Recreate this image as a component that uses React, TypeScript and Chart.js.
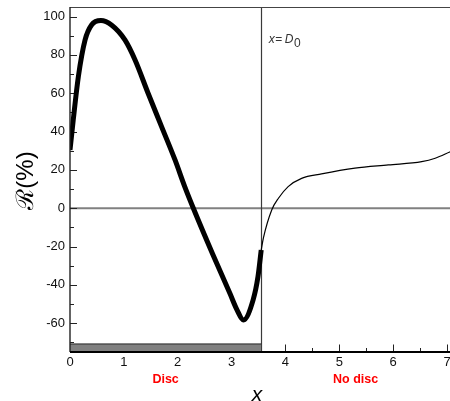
import React, { useEffect, useRef } from "react";
import { Chart, registerables } from "chart.js";

Chart.register(...registerables);

// ---- data ----
const discEnd = 3.55; // x = D0
const discTop = -70.8;

const discX = [0, 0.06, 0.155, 0.28, 0.4, 0.575, 0.77, 1.02, 1.21, 1.45, 1.7, 1.95, 2.13, 2.29, 2.65, 2.97, 3.1, 3.22, 3.4, 3.49, 3.55];
const discY = [30.4, 46, 68.6, 87.8, 95.6, 97.9, 95.6, 87.8, 77.2, 60, 42.6, 25.2, 11.3, 0, -24, -44.5, -53, -58.3, -47.8, -35.7, -21.8];

const noDiscX = [3.55, 3.59, 3.745, 3.87, 4.05, 4.3, 4.67, 5.29, 5.91, 6.53, 6.78, 7.06];
const noDiscY = [-21.8, -15.6, -0.9, 5.2, 11.3, 15.6, 17.9, 20.9, 22.6, 24.3, 26.1, 29.5];

const xTicks = [0, 1, 2, 3, 4, 5, 6, 7];
const xMinorTicks = [0.5, 1.5, 2.5, 3.5, 4.5, 5.5, 6.5];
const yTicks = [-60, -40, -20, 0, 20, 40, 60, 80, 100];
const yMinorTicks = [-70, -50, -30, -10, 10, 30, 50, 70, 90];

const xMin = 0;
const xMax = 7.055;
const yMin = -75;
const yMax = 105;

const regionLabels = ["Disc", "No disc"];
const FONT = "'Liberation Sans', Arial, Helvetica, sans-serif";

const decor = {
  id: "decor",
  beforeDatasetsDraw(chart: any) {
    const { ctx, chartArea, scales } = chart;
    const { left, right, top, bottom } = chartArea;
    const x = scales.x;
    const y = scales.y;
    ctx.save();
    // zero line
    const y0 = y.getPixelForValue(0);
    ctx.strokeStyle = "#808080";
    ctx.lineWidth = 2;
    ctx.beginPath();
    ctx.moveTo(left, y0);
    ctx.lineTo(right, y0);
    ctx.stroke();
    // D0 vertical line
    const xd = Math.round(x.getPixelForValue(discEnd)) + 0.5;
    ctx.strokeStyle = "#3a3a3a";
    ctx.lineWidth = 1.2;
    ctx.beginPath();
    ctx.moveTo(xd, top);
    ctx.lineTo(xd, bottom);
    ctx.stroke();
    // ticks (inward)
    ctx.strokeStyle = "#222";
    ctx.lineWidth = 1;
    ctx.beginPath();
    yTicks.forEach((v) => {
      const p = Math.round(y.getPixelForValue(v)) + 0.5;
      ctx.moveTo(left, p);
      ctx.lineTo(left + 7, p);
    });
    yMinorTicks.forEach((v) => {
      const p = Math.round(y.getPixelForValue(v)) + 0.5;
      ctx.moveTo(left, p);
      ctx.lineTo(left + 4, p);
    });
    xTicks.forEach((v) => {
      const p = Math.round(x.getPixelForValue(v)) + 0.5;
      ctx.moveTo(p, bottom);
      ctx.lineTo(p, bottom - 7.5);
    });
    xMinorTicks.forEach((v) => {
      const p = Math.round(x.getPixelForValue(v)) + 0.5;
      ctx.moveTo(p, bottom);
      ctx.lineTo(p, bottom - 4);
    });
    ctx.stroke();
    ctx.restore();
  },
  afterDatasetsDraw(chart: any) {
    const { ctx, chartArea } = chart;
    const { left, right, top, bottom } = chartArea;
    ctx.save();
    // top border
    ctx.strokeStyle = "#444";
    ctx.lineWidth = 1;
    ctx.beginPath();
    ctx.moveTo(left, top + 0.5);
    ctx.lineTo(right, top + 0.5);
    ctx.stroke();
    // left axis
    ctx.strokeStyle = "#222";
    ctx.lineWidth = 1.4;
    ctx.beginPath();
    ctx.moveTo(left, top);
    ctx.lineTo(left, bottom);
    ctx.stroke();
    // bottom axis
    ctx.strokeStyle = "#000";
    ctx.lineWidth = 2.2;
    ctx.beginPath();
    ctx.moveTo(left, bottom);
    ctx.lineTo(right, bottom);
    ctx.stroke();
    ctx.restore();
  },
  afterDraw(chart: any) {
    const { ctx, chartArea, scales } = chart;
    const { left, right, top, bottom } = chartArea;
    const x = scales.x;
    ctx.save();
    // region labels
    ctx.fillStyle = "#ff0000";
    ctx.font = `bold 12.5px ${FONT}`;
    ctx.textAlign = "center";
    ctx.textBaseline = "alphabetic";
    const xd = x.getPixelForValue(discEnd);
    ctx.fillText(regionLabels[0], (x.getPixelForValue(xMin) + xd) / 2, 383);
    ctx.fillText(regionLabels[1], (xd + x.getPixelForValue(xMax)) / 2, 383);

    // x = D0 annotation
    ctx.fillStyle = "#333";
    ctx.textAlign = "left";
    let cx = xd + 7.5;
    const base = 43;
    ctx.font = `italic 12px ${FONT}`;
    ctx.fillText("x", cx, base);
    cx += ctx.measureText("x").width + 0.5;
    ctx.font = `12px ${FONT}`;
    ctx.fillText("=", cx, base);
    cx += ctx.measureText("=").width + 2.5;
    ctx.font = `italic 12px ${FONT}`;
    ctx.fillText("D", cx, base);
    cx += ctx.measureText("D").width + 0.5;
    ctx.font = `12px ${FONT}`;
    ctx.fillText("0", cx, base + 4);

    // x axis title
    ctx.fillStyle = "#000";
    ctx.textAlign = "center";
    ctx.font = `italic 21px ${FONT}`;
    ctx.fillText("x", (left + right) / 2 - 3, 400.5);

    // y axis title
    ctx.translate(33, (top + bottom) / 2 + 1);
    ctx.rotate(-Math.PI / 2);
    ctx.font = `24px ${FONT}`;
    ctx.textAlign = "center";
    ctx.textBaseline = "alphabetic";
    ctx.fillText("\u211B(%)", 0, 0);
    ctx.restore();
  },
};

export default function App() {
  const ref = useRef<HTMLCanvasElement | null>(null);
  useEffect(() => {
    if (!ref.current) return;
    const discPts = discX.map((v, i) => ({ x: v, y: discY[i] }));
    const noDiscPts = noDiscX.map((v, i) => ({ x: v, y: noDiscY[i] }));
    const barPts = [
      { x: xMin, y: discTop },
      { x: discEnd, y: discTop },
    ];
    const chart = new Chart(ref.current, {
      type: "line",
      data: {
        datasets: [
          {
            data: discPts,
            borderColor: "#000",
            borderWidth: 5,
            pointRadius: 0,
            fill: false,
            cubicInterpolationMode: "monotone",
            borderCapStyle: "butt",
          },
          {
            data: noDiscPts,
            borderColor: "#000",
            borderWidth: 1.2,
            pointRadius: 0,
            fill: false,
            cubicInterpolationMode: "monotone",
          },
          {
            data: barPts,
            borderColor: "#222",
            borderWidth: 1,
            backgroundColor: "#808080",
            pointRadius: 0,
            fill: "start",
            tension: 0,
          },
        ],
      } as any,
      options: {
        animation: false,
        responsive: false,
        parsing: false as any,
        layout: { padding: { top: 7, left: 0, right: 0, bottom: 0 } },
        plugins: {
          legend: { display: false },
          tooltip: { enabled: false },
          title: { display: false },
        },
        scales: {
          x: {
            type: "linear",
            min: xMin,
            max: xMax,
            grid: { display: false, drawTicks: false },
            border: { display: false },
            afterBuildTicks: (s: any) => {
              s.ticks = xTicks.map((v) => ({ value: v }));
            },
            afterFit: (s: any) => {
              s.height = 49;
              s.paddingLeft = 0;
              s.paddingRight = 0;
            },
            ticks: {
              padding: 3,
              color: "#111",
              font: { family: FONT, size: 13 },
              maxRotation: 0,
              autoSkip: false,
            },
          },
          y: {
            type: "linear",
            min: yMin,
            max: yMax,
            grid: { display: false, drawTicks: false },
            border: { display: false },
            afterBuildTicks: (s: any) => {
              s.ticks = yTicks.map((v) => ({ value: v }));
            },
            afterFit: (s: any) => {
              s.width = 70;
              s.paddingTop = 0;
              s.paddingBottom = 0;
            },
            ticks: {
              padding: 5,
              color: "#111",
              font: { family: FONT, size: 13 },
              autoSkip: false,
            },
          },
        },
      } as any,
      plugins: [decor],
    });
    return () => chart.destroy();
  }, []);
  return (
    <div style={{ position: "absolute", left: 0, top: 0, width: 450, height: 401 }}>
      <canvas ref={ref} width={450} height={401} style={{ display: "block" }} />
    </div>
  );
}
